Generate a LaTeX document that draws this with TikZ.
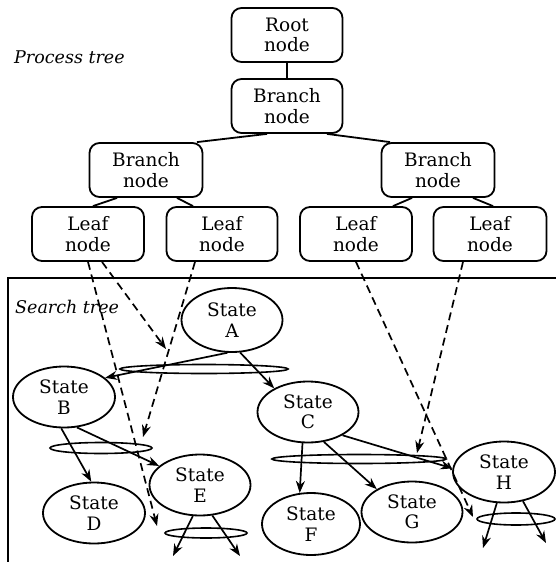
\documentclass[tikz,border=0pt]{standalone}
\usepackage{fontspec}
\setmainfont{DejaVu Serif}
\usetikzlibrary{shapes.geometric,arrows.meta}
\begin{document}
\begin{tikzpicture}[x=1pt,y=-1pt,
  pbox/.style={draw,line width=1.8pt,rounded corners=10pt,minimum width=111pt,minimum height=54pt,inner sep=0pt,align=center,font=\fontsize{18.5}{20.5}\selectfont},
  st/.style={draw,ellipse,line width=1.8pt,minimum width=101pt,minimum height=61pt,inner sep=0pt,align=center,font=\fontsize{18.5}{20.5}\selectfont},
  orset/.style={draw,ellipse,line width=1.6pt,inner sep=0pt},
  link/.style={line width=1.8pt},
  arr/.style={line width=1.7pt,-{Stealth[length=12pt,width=9pt]}},
  darr/.style={arr,dash pattern=on 8pt off 5pt},
  lbl/.style={font=\fontsize{17.5}{19}\selectfont\itshape,anchor=west,inner sep=0pt}
]
\useasboundingbox (0,0) rectangle (556,562);

% labels
\node[lbl] (ptl) at (14,57) {Process tree};
\node[lbl] (stl) at (15,307) {Search tree};

% search tree frame
\draw[link] (8,562) -- (8,278) -- (556,278);

% process tree
\node[pbox] (root) at (287,35) {Root\\node};
\node[pbox] (btop) at (287,106) {Branch\\node};
\node[pbox,minimum width=113pt] (bl) at (146,170) {Branch\\node};
\node[pbox,minimum width=113pt] (br) at (438,170) {Branch\\node};
\node[pbox,minimum width=112pt] (l1) at (88,234) {Leaf\\node};
\node[pbox] (l2) at (222,234) {Leaf\\node};
\node[pbox,minimum width=112pt] (l3) at (356,234) {Leaf\\node};
\node[pbox,minimum width=113pt] (l4) at (490,234) {Leaf\\node};

\draw[link] (root.south) -- (btop.north);
\draw[link] ([xshift=-20pt]btop.south) -- ([xshift=51pt]bl.north);
\draw[link] ([xshift=40pt]btop.south) -- ([xshift=-48pt]br.north);
\draw[link] ([xshift=-29pt]bl.south) -- ([xshift=5pt]l1.north);
\draw[link] ([xshift=31pt]bl.south) -- ([xshift=-29pt]l2.north);
\draw[link] ([xshift=-26pt]br.south) -- ([xshift=37pt]l3.north);
\draw[link] ([xshift=35pt]br.south) -- ([xshift=3pt]l4.north);

% states
\node[st,minimum height=64pt] (A) at (232,320) {State\\A};
\node[st,minimum width=102pt] (B) at (64,397) {State\\B};
\node[st] (C) at (308,412) {State\\C};
\node[st,minimum width=102pt] (D) at (94,513) {State\\D};
\node[st] (E) at (200,485) {State\\E};
\node[st,minimum width=98pt,minimum height=62pt] (F) at (311,524) {State\\F};
\node[st] (G) at (412,512) {State\\G};
\node[st,minimum width=102pt] (H) at (504,472) {State\\H};

% or-sets
\node[orset,minimum width=168pt,minimum height=9pt] (ellA) at (204,369) {};
\node[orset,minimum width=102pt,minimum height=11pt] (ellB) at (101,448) {};
\node[orset,minimum width=174pt,minimum height=9pt] (ellC) at (359,459) {};
\node[orset,minimum width=82pt,minimum height=10pt] (ellE) at (206,533) {};
\node[orset,minimum width=78pt,minimum height=12pt] (ellH) at (516,519) {};

% solid arrows
\draw[arr] (A.262) -- (B.25);
\draw[arr] (A.284) -- (C.145);
\draw[arr] (B.265) -- (D.95);
\draw[arr] (B.293) -- (E.155);
\draw[arr] (C.260) -- (F.110);
\draw[arr] (C.298) -- (G.147);
\draw[arr] (C.326) -- (H.176);

\coordinate (e1) at (173,556);
\coordinate (e2) at (240,556);
\coordinate (h1) at (483,548);
\coordinate (h2) at (546,543);
\draw[arr] (E.257) -- (e1);
\draw[arr] (E.292) -- (e2);
\draw[arr] (H.257) -- (h1);
\draw[arr] (H.303) -- (h2);

% dashed arrows
\coordinate (dA) at (166,349);
\coordinate (dB) at (143,437);
\coordinate (dE) at (157,526);
\coordinate (dC) at (417,453);
\coordinate (dH) at (473,517);
\draw[darr] ([xshift=14pt]l1.south) -- (dA);
\draw[darr] (l1.south) -- (dE);
\draw[darr] ([xshift=-27pt]l2.south) -- (dB);
\draw[darr] (l3.south) -- (dH);
\draw[darr] ([xshift=-27pt]l4.south) -- (dC);
\end{tikzpicture}
\end{document}
